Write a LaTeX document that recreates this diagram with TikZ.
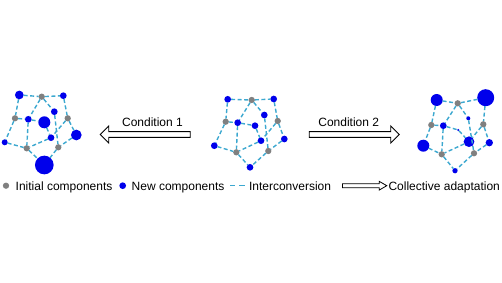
\documentclass[tikz,border=0pt]{standalone}
\usepackage{fontspec}
\setmainfont{Liberation Sans}
\usetikzlibrary{positioning, shapes.arrows}

\definecolor{compgray}{RGB}{128,128,128}
\definecolor{compblue}{RGB}{0,0,235}
\definecolor{convcyan}{RGB}{60,168,208}

\begin{document}
\begin{tikzpicture}[
    x=1pt, y=-1pt,
    every node/.style = {inner sep=0pt, outer sep=0pt},
    init/.style     = {circle, fill=compgray, minimum size=6.3pt},
    new/.style      = {circle, fill=compblue, minimum size=#1},
    new/.default    = 6.7pt,
    conv/.style     = {convcyan, line width=1.4pt, dash pattern=on 4pt off 2.5pt},
    bigarrow/.style = {single arrow, draw=black, line width=0.9pt, fill=white,
                       minimum height=90pt, inner ysep=2.4pt, single arrow head extend=5.6pt},
    txt/.style      = {font=\fontsize{12}{14}\selectfont, anchor=base}
]
\useasboundingbox (0,0) rectangle (502,283);

% left network (condition 1)
\node[new=8.7pt]  (L1)  at (19.3, 95)    {};
\node[init]       (L2)  at (41.7, 96.7)  {};
\node[new]        (L3)  at (63.3, 95.7)  {};
\node[init]       (L4)  at (15, 118.3)   {};
\node[new]        (L5)  at (28.3, 119.3) {};
\node[new]        (L6)  at (54.3, 111.7) {};
\node[new=12pt]   (L7)  at (44.3, 122.3) {};
\node[init]       (L8)  at (67.7, 118.3) {};
\node[new=6pt]    (L9)  at (4.7, 142.3)  {};
\node[new]        (L10) at (51, 137.7)   {};
\node[new=10.7pt] (L11) at (76.3, 135)   {};
\node[init]       (L12) at (26.7, 148.3) {};
\node[init]       (L13) at (58.3, 147.3) {};
\node[new=18.7pt] (L14) at (44.3, 165)   {};

% center network (initial state)
\node[new]  (C1)  at (227.7, 99.3)  {};
\node[init] (C2)  at (251.7, 100)   {};
\node[new]  (C3)  at (273.7, 99)    {};
\node[init] (C4)  at (225.7, 121.7) {};
\node[new]  (C5)  at (237.7, 122.7) {};
\node[new]  (C6)  at (264.3, 115)   {};
\node[new]  (C7)  at (255, 125.7)   {};
\node[init] (C8)  at (277.7, 121)   {};
\node[new]  (C9)  at (214.3, 145.7) {};
\node[new]  (C10) at (261, 140.7)   {};
\node[new]  (C11) at (284.3, 139)   {};
\node[init] (C12) at (236.3, 152.3) {};
\node[init] (C13) at (268.3, 151)   {};
\node[new]  (C14) at (250, 167.3)   {};

% right network (condition 2)
\node[new=12pt]   (R1)  at (436.7, 100)   {};
\node[init]       (R2)  at (457.7, 103.3) {};
\node[new=17pt]   (R3)  at (485.7, 97.7)  {};
\node[init]       (R4)  at (431.3, 125)   {};
\node[new]        (R5)  at (443.3, 125.7) {};
\node[new=4pt]    (R6)  at (468.3, 118.3) {};
\node[new=2.3pt]  (R7)  at (458.3, 130)   {};
\node[init]       (R8)  at (483.3, 124.3) {};
\node[new=12pt]   (R9)  at (423.3, 145.7) {};
\node[new=10.7pt] (R10) at (469, 141.7)   {};
\node[new=7.3pt]  (R11) at (489.3, 142.7) {};
\node[init]       (R12) at (441.7, 154.3) {};
\node[init]       (R13) at (474, 153.3)   {};
\node[new=5.3pt]  (R14) at (455, 170.7)   {};

% interconversions, same graph in all three
\foreach \net in {L, C, R}
  \foreach \a/\b in {1/2, 2/3, 1/4, 2/5, 2/6, 3/8, 4/5, 4/9, 5/7, 5/12,
                     6/13, 7/10, 8/10, 8/11, 9/12, 10/12, 11/13, 13/14, 12/14}
    \draw[conv] (\net\a) -- (\net\b);

% condition arrows
\node[bigarrow, shape border rotate=180] (cond1) at (146.7, 134.5) {};
\node[bigarrow] (cond2) at (352.8, 134.5) {};
\node[txt] at (152.5, 127) {Condition 1};
\node[txt] at (348.7, 127) {Condition 2};

% legend
\node[init] (lgray) at (6, 185.7)     {};
\node[txt, anchor=base west] at (15.7, 190) {Initial components};
\node[new]  (lblue) at (122.7, 185.7) {};
\node[txt, anchor=base west] at (131.7, 190) {New components};
\coordinate (ld1) at (230, 185.7);
\coordinate (ld2) at (245, 185.7);
\draw[conv, dash pattern=on 5.3pt off 4pt] (ld1) -- (ld2);
\node[txt, anchor=base west] at (249, 190) {Interconversion};
\node[single arrow, draw=black, line width=0.8pt, fill=white, minimum height=44.3pt,
      inner ysep=1.6pt, single arrow head extend=2.4pt, single arrow tip angle=60]
      (ladapt) at (362.9, 185.7) {};
\node[txt, anchor=base west] at (388.5, 190) {Collective adaptation};

\end{tikzpicture}
\end{document}
